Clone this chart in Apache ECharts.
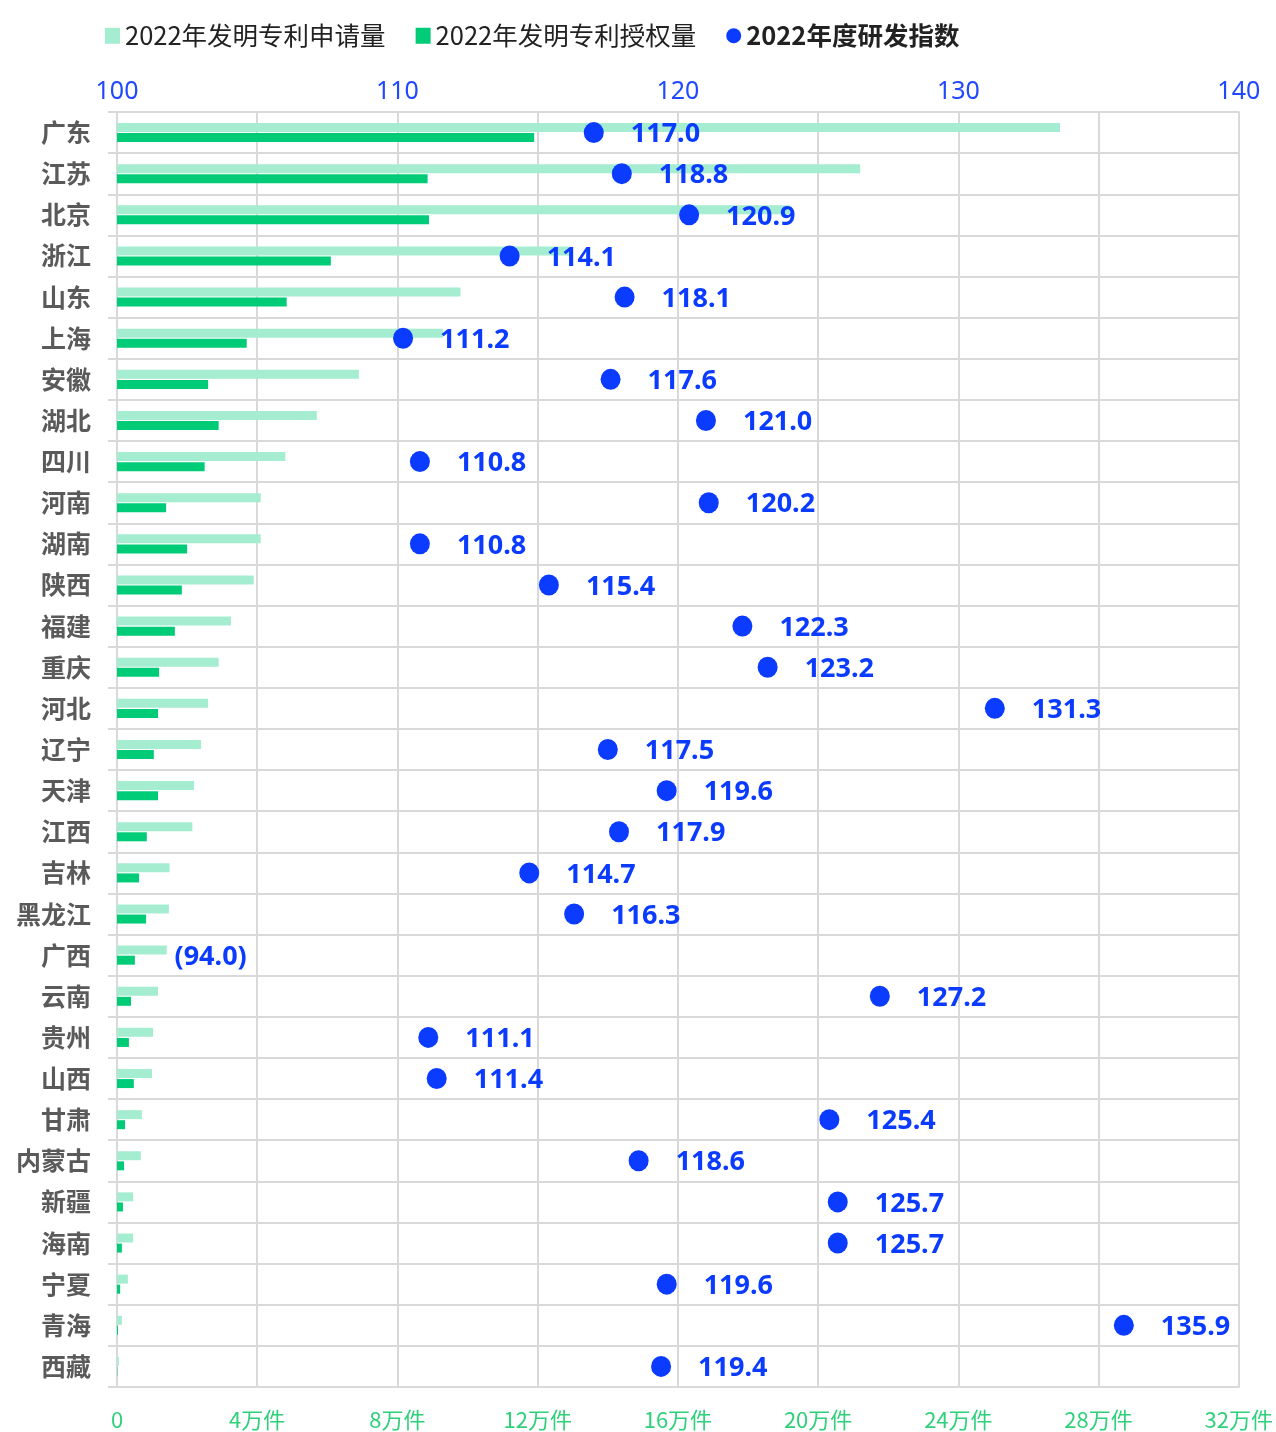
<!DOCTYPE html>
<html>
<head>
<meta charset="utf-8">
<script src="https://cdn.jsdelivr.net/npm/echarts@6/dist/echarts.min.js"></script>
<style>
  html, body { margin: 0; padding: 0; background: #fff; }
  #main { width: 1276px; height: 1432px; }
</style>
</head>
<body>
<div id="main"></div>
<script>
// 省份（从上到下）
var provinces = ['广东', '江苏', '北京', '浙江', '山东', '上海', '安徽', '湖北', '四川', '河南',
  '湖南', '陕西', '福建', '重庆', '河北', '辽宁', '天津', '江西', '吉林', '黑龙江',
  '广西', '云南', '贵州', '山西', '甘肃', '内蒙古', '新疆', '海南', '宁夏', '青海', '西藏'];

// 2022年发明专利申请量（万件）
var applyCount = [26.9, 21.2, 19.2, 12.9, 9.8, 9.3, 6.9, 5.7, 4.8, 4.1,
  4.1, 3.9, 3.25, 2.9, 2.6, 2.4, 2.2, 2.15, 1.5, 1.48,
  1.42, 1.17, 1.03, 1.0, 0.71, 0.68, 0.46, 0.46, 0.31, 0.14, 0.05];

// 2022年发明专利授权量（万件）
var grantCount = [11.9, 8.86, 8.9, 6.1, 4.84, 3.7, 2.6, 2.9, 2.5, 1.4,
  2.0, 1.85, 1.65, 1.2, 1.17, 1.05, 1.17, 0.85, 0.63, 0.83,
  0.51, 0.4, 0.34, 0.48, 0.23, 0.2, 0.17, 0.14, 0.09, 0.03, 0.01];

// 2022年度研发指数（标签数值）
var rdIndex = [117.0, 118.8, 120.9, 114.1, 118.1, 111.2, 117.6, 121.0, 110.8, 120.2,
  110.8, 115.4, 122.3, 123.2, 131.3, 117.5, 119.6, 117.9, 114.7, 116.3,
  94.0, 127.2, 111.1, 111.4, 125.4, 118.6, 125.7, 125.7, 119.6, 135.9, 119.4];

// 圆点在图上的位置（按原图读出，个别与标签略有出入）
var rdDot = [117.0, 118.0, 120.4, 114.0, 118.1, 110.2, 117.6, 121.0, 110.8, 121.1,
  110.8, 115.4, 122.3, 123.2, 131.3, 117.5, 119.6, 117.9, 114.7, 116.3,
  94.0, 127.2, 111.1, 111.4, 125.4, 118.6, 125.7, 125.7, 119.6, 135.9, 119.4];

var topMin = 100, topMax = 140;

var gridColor = '#d9d9d9';
var dotColor = '#0a3bff';

var myChart = echarts.init(document.getElementById('main'));

var dotData = [];
for (var i = 0; i < provinces.length; i++) {
  if (rdDot[i] < topMin) {
    // 低于坐标轴最小值：只显示带括号的标签
    dotData.push({
      value: [topMin, provinces[i]],
      symbolSize: 1,
      itemStyle: { color: 'rgba(0,0,0,0)' },
      label: { distance: 57, formatter: '(' + rdIndex[i].toFixed(1) + ')' }
    });
  } else {
    dotData.push({ value: [rdDot[i], provinces[i]] });
  }
}

myChart.setOption({
  animation: false,
  legend: {
    top: 18,
    left: 100,
    itemGap: 30,
    itemWidth: 15,
    itemHeight: 16,
    textStyle: { fontSize: 25.5, color: '#222', fontFamily: 'Noto Sans CJK SC' },
    data: [
      { name: '2022年发明专利申请量', icon: 'rect' },
      { name: '2022年发明专利授权量', icon: 'rect' },
      { name: '2022年度研发指数', icon: 'circle', textStyle: { fontWeight: 'bold' } }
    ]
  },
  grid: { left: 117, right: 36, top: 112, bottom: 45, containLabel: false },
  xAxis: [
    {
      type: 'value',
      position: 'bottom',
      min: 0,
      max: 32,
      interval: 4,
      axisLine: { show: true, lineStyle: { color: gridColor, width: 2 } },
      axisTick: { show: false },
      splitLine: { show: true, lineStyle: { color: gridColor, width: 2 } },
      axisLabel: {
        margin: 22,
        fontSize: 22,
        color: '#2fd07a',
        fontFamily: 'Noto Sans CJK SC',
        formatter: function (v) { return v === 0 ? '0' : v + '万件'; }
      }
    },
    {
      type: 'value',
      position: 'top',
      min: topMin,
      max: topMax,
      interval: 10,
      axisLine: { show: true, lineStyle: { color: gridColor, width: 2 } },
      axisTick: { show: false },
      splitLine: { show: false },
      axisLabel: { margin: 8, fontSize: 25, color: '#1f48ff', fontFamily: 'Noto Sans' }
    }
  ],
  yAxis: {
    type: 'category',
    inverse: true,
    data: provinces,
    axisLine: { show: true, lineStyle: { color: gridColor, width: 2 } },
    axisTick: { show: true, length: 9, lineStyle: { color: gridColor, width: 2 } },
    splitLine: { show: true, lineStyle: { color: gridColor, width: 2 } },
    axisLabel: {
      margin: 26,
      fontSize: 25,
      fontWeight: 'bold',
      color: '#5a5a5a',
      fontFamily: 'Noto Sans CJK SC'
    }
  },
  series: [
    {
      name: '2022年发明专利申请量',
      type: 'bar',
      xAxisIndex: 0,
      data: applyCount,
      barWidth: 9,
      barGap: '12%',
      itemStyle: { color: '#a5edd0' }
    },
    {
      name: '2022年发明专利授权量',
      type: 'bar',
      xAxisIndex: 0,
      data: grantCount,
      barWidth: 9,
      barGap: '12%',
      itemStyle: { color: '#00cc77' }
    },
    {
      name: '2022年度研发指数',
      type: 'scatter',
      xAxisIndex: 1,
      data: dotData,
      symbolSize: [20, 21],
      z: 5,
      itemStyle: { color: dotColor, opacity: 1 },
      label: {
        show: true,
        position: 'right',
        distance: 27,
        offset: [0, 2],
        fontSize: 27,
        fontWeight: 'bold',
        color: dotColor,
        fontFamily: 'Noto Sans',
        formatter: function (p) { return rdIndex[p.dataIndex].toFixed(1); }
      }
    }
  ]
});
</script>
</body>
</html>
